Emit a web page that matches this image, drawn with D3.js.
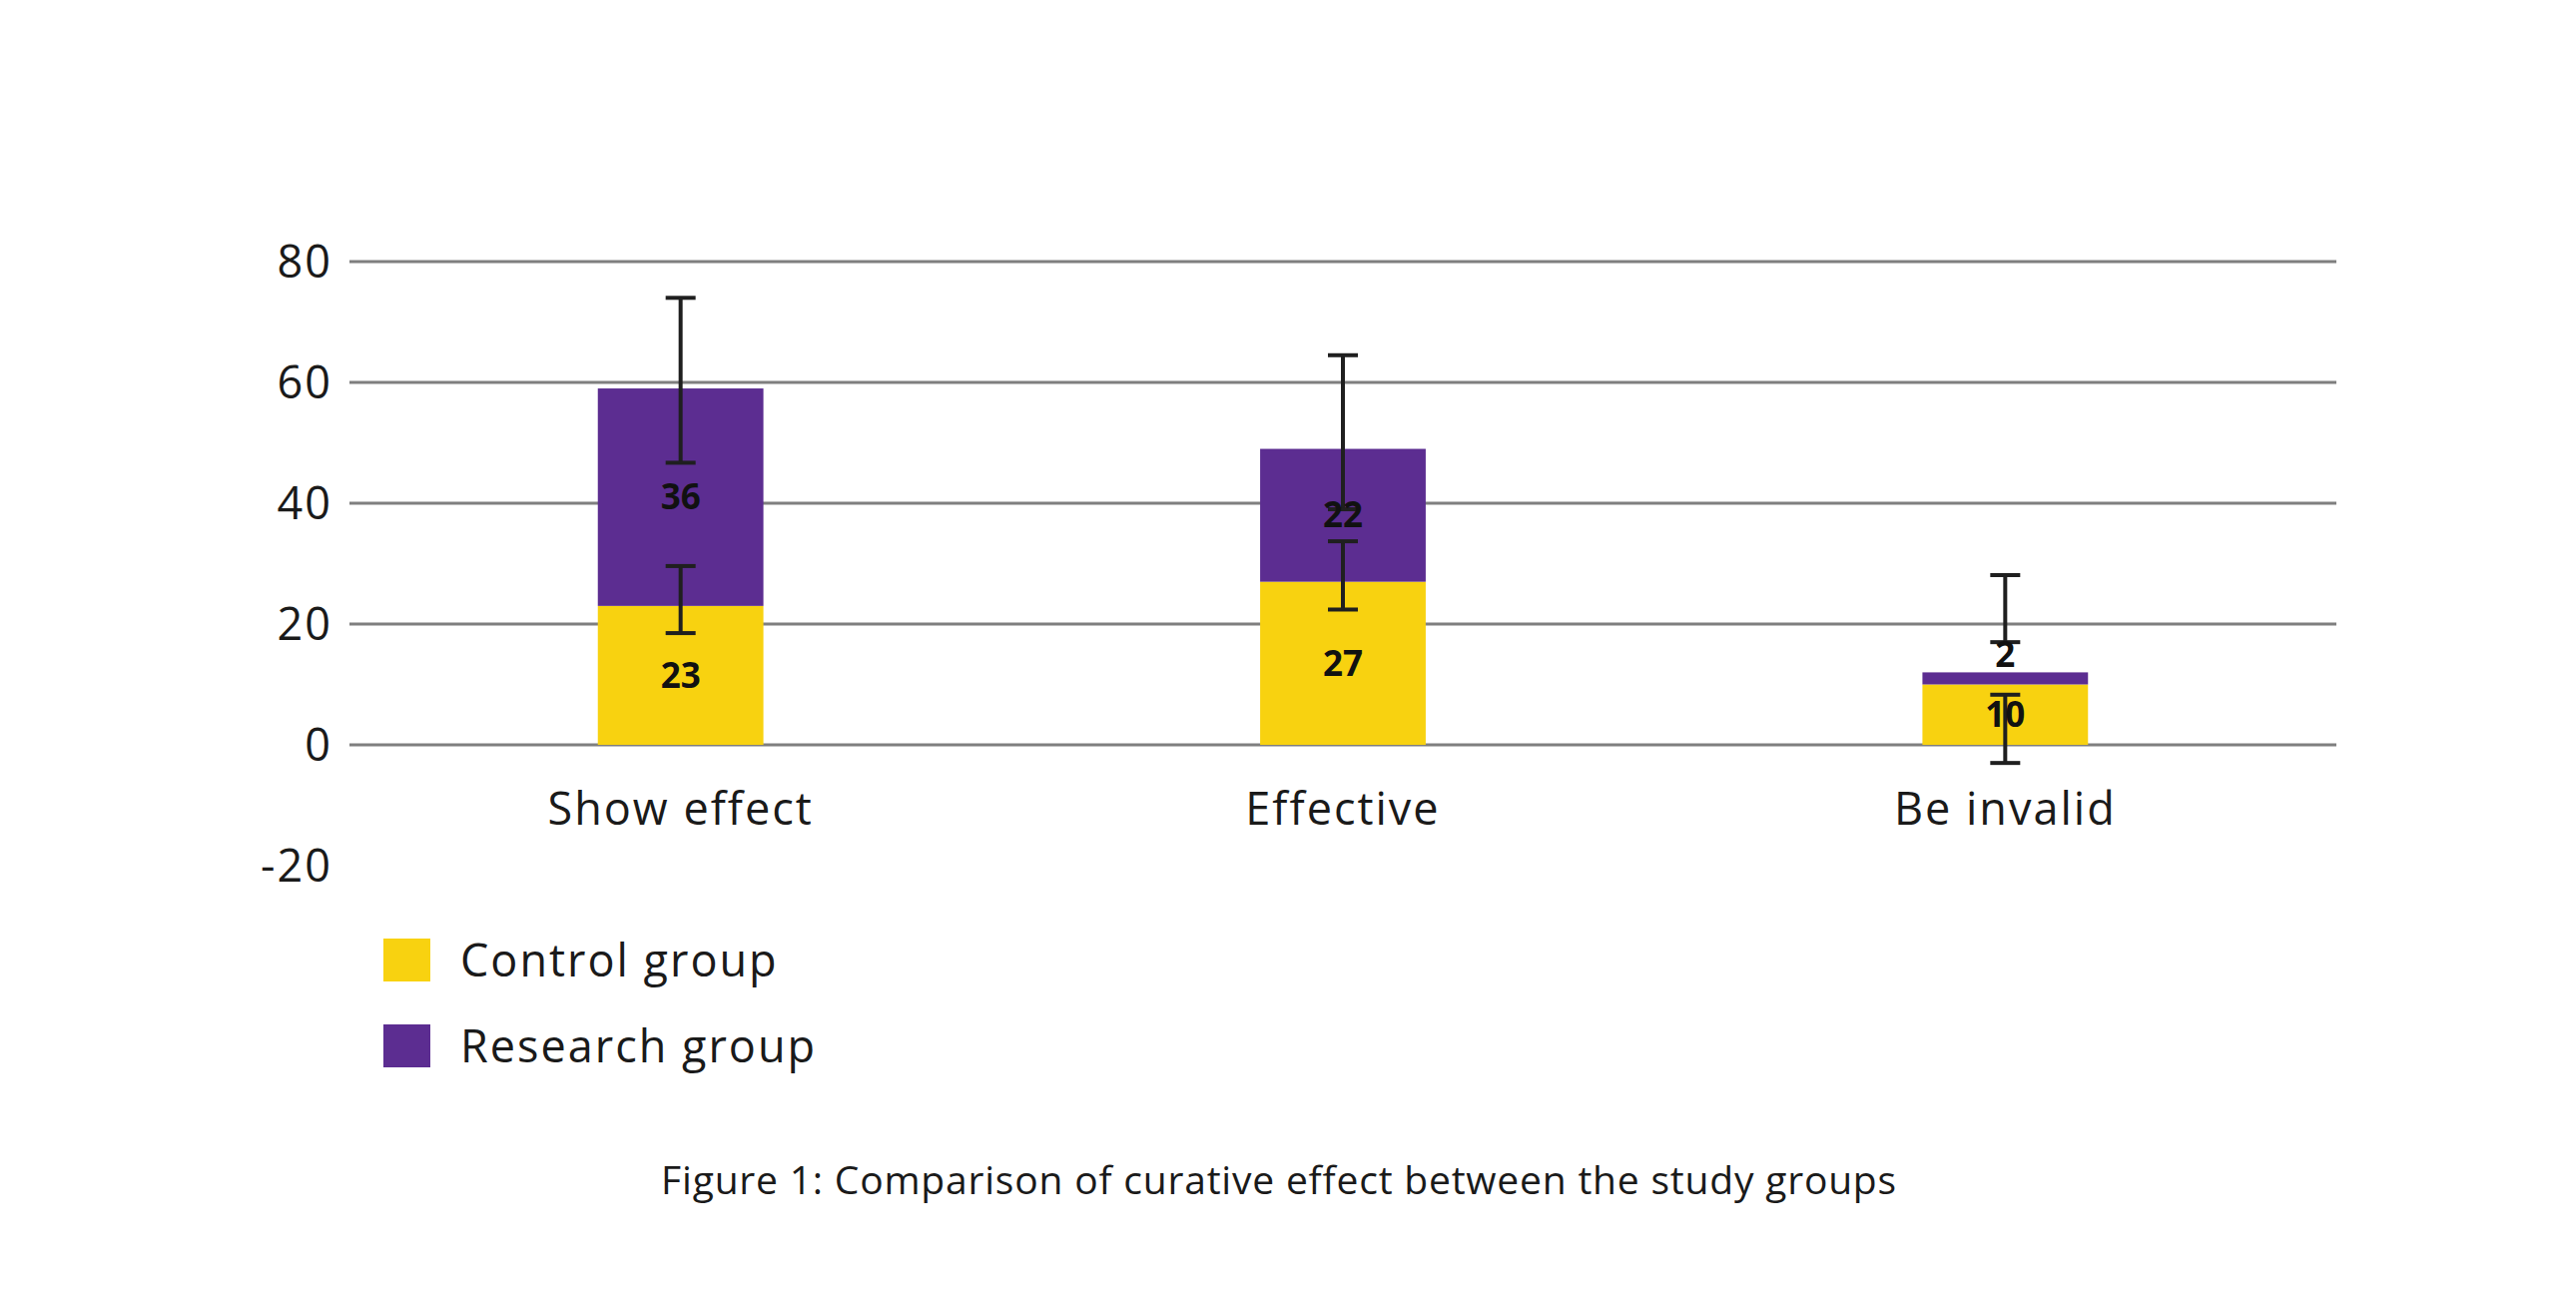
<!DOCTYPE html>
<html>
<head>
<meta charset="utf-8">
<script src="https://cdn.jsdelivr.net/npm/d3@7"></script>
<style>
  body { margin: 0; background: #fff; }
  svg { display: block; font-family: "Open Sans", Lato, sans-serif; }
</style>
</head>
<body>
<svg width="2580" height="1292"></svg>
<script>
// chart values
var categories = ["Show effect", "Effective", "Be invalid"];
var controlValues = [23, 27, 10];
var researchValues = [36, 22, 2];
// error bar extents [low, high] on the stacked scale
var controlErrors = [[18.5, 29.6], [22.4, 33.7], [-3, 8.3]];
var researchErrors = [[46.7, 74], [39, 64.5], [17, 28.1]];
var yTicks = [-20, 0, 20, 40, 60, 80];
var seriesNames = ["Control group", "Research group"];
var seriesColors = ["#f8d210", "#5c2d91"];
var caption = "Figure 1: Comparison of curative effect between the study groups";

(function () {
  'use strict';

  var svg = d3.select("svg");

  var x = d3.scaleBand()
      .domain(categories)
      .range([350, 2340])
      .paddingInner(0.75)
      .paddingOuter(0.375);

  var y = d3.scaleLinear()
      .domain([-20, 80])
      .range([867, 262]);

  // gridlines (0 to 80 only)
  svg.append("g")
    .selectAll("line")
    .data(yTicks.filter(function(d) { return d >= 0; }))
    .enter().append("line")
      .attr("x1", 350)
      .attr("x2", 2340)
      .attr("y1", function(d) { return y(d); })
      .attr("y2", function(d) { return y(d); })
      .attr("stroke", "#7f7f7f")
      .attr("stroke-width", 3);

  // y tick labels
  svg.append("g")
    .selectAll("text")
    .data(yTicks)
    .enter().append("text")
      .attr("x", 333)
      .attr("y", function(d) { return y(d); })
      .attr("dy", "0.35em")
      .attr("text-anchor", "end")
      .attr("font-size", 45)
      .attr("letter-spacing", 2)
      .attr("fill", "#1a1a1a")
      .text(function(d) { return d; });

  // stacked bars
  var rows = categories.map(function(c, i) {
    return { cat: c, control: controlValues[i], research: researchValues[i] };
  });
  var stack = d3.stack().keys(["control", "research"]);
  var layers = stack(rows);

  var layer = svg.append("g")
    .selectAll("g")
    .data(layers)
    .enter().append("g")
      .attr("fill", function(d, i) { return seriesColors[i]; });

  layer.selectAll("rect")
    .data(function(d) { return d; })
    .enter().append("rect")
      .attr("x", function(d) { return x(d.data.cat); })
      .attr("width", x.bandwidth())
      .attr("y", function(d) { return y(d[1]); })
      .attr("height", function(d) { return y(d[0]) - y(d[1]); });

  // error bars
  var errs = [];
  categories.forEach(function(c, i) {
    errs.push({ cat: c, lo: controlErrors[i][0], hi: controlErrors[i][1] });
    errs.push({ cat: c, lo: researchErrors[i][0], hi: researchErrors[i][1] });
  });

  var eb = svg.append("g")
    .attr("stroke", "#1f1f1f")
    .attr("stroke-width", 4)
    .selectAll("g")
    .data(errs)
    .enter().append("g")
      .attr("transform", function(d) { return "translate(" + (x(d.cat) + x.bandwidth() / 2) + ",0)"; });

  eb.append("line")
    .attr("y1", function(d) { return y(d.lo); })
    .attr("y2", function(d) { return y(d.hi); });
  eb.append("line")
    .attr("x1", -15).attr("x2", 15)
    .attr("y1", function(d) { return y(d.lo); })
    .attr("y2", function(d) { return y(d.lo); });
  eb.append("line")
    .attr("x1", -15).attr("x2", 15)
    .attr("y1", function(d) { return y(d.hi); })
    .attr("y2", function(d) { return y(d.hi); });

  // value labels, middle of each segment (above the bar if the segment is too thin)
  layers.forEach(function(l) {
    svg.append("g")
      .selectAll("text")
      .data(l)
      .enter().append("text")
        .attr("x", function(d) { return x(d.data.cat) + x.bandwidth() / 2; })
        .attr("y", function(d) {
          var v = d[1] - d[0];
          return v < 5 ? y(d[1] + 3) : y((d[0] + d[1]) / 2);
        })
        .attr("dy", "0.35em")
        .attr("text-anchor", "middle")
        .attr("font-size", 35)
        .attr("font-weight", "bold")
        .attr("fill", "#111")
        .text(function(d) { return d[1] - d[0]; });
  });

  // category labels
  svg.append("g")
    .selectAll("text")
    .data(categories)
    .enter().append("text")
      .attr("x", function(d) { return x(d) + x.bandwidth() / 2; })
      .attr("y", 810)
      .attr("dy", "0.35em")
      .attr("text-anchor", "middle")
      .attr("font-size", 45)
      .attr("letter-spacing", 2)
      .attr("fill", "#1a1a1a")
      .text(function(d) { return d; });

  // legend
  var legend = svg.append("g")
    .selectAll("g")
    .data(seriesNames)
    .enter().append("g")
      .attr("transform", function(d, i) { return "translate(384," + (940 + i * 86) + ")"; });

  legend.append("rect")
    .attr("width", 47)
    .attr("height", 43)
    .attr("fill", function(d, i) { return seriesColors[i]; });

  legend.append("text")
    .attr("x", 77)
    .attr("y", 22)
    .attr("dy", "0.35em")
    .attr("font-size", 45)
    .attr("letter-spacing", 2)
    .attr("fill", "#1a1a1a")
    .text(function(d) { return d; });

  // caption
  svg.append("text")
    .attr("x", 1281)
    .attr("y", 1182)
    .attr("dy", "0.35em")
    .attr("text-anchor", "middle")
    .attr("font-size", 39)
    .attr("letter-spacing", 0.8)
    .attr("fill", "#1a1a1a")
    .text(caption);
}());
</script>
</body>
</html>
